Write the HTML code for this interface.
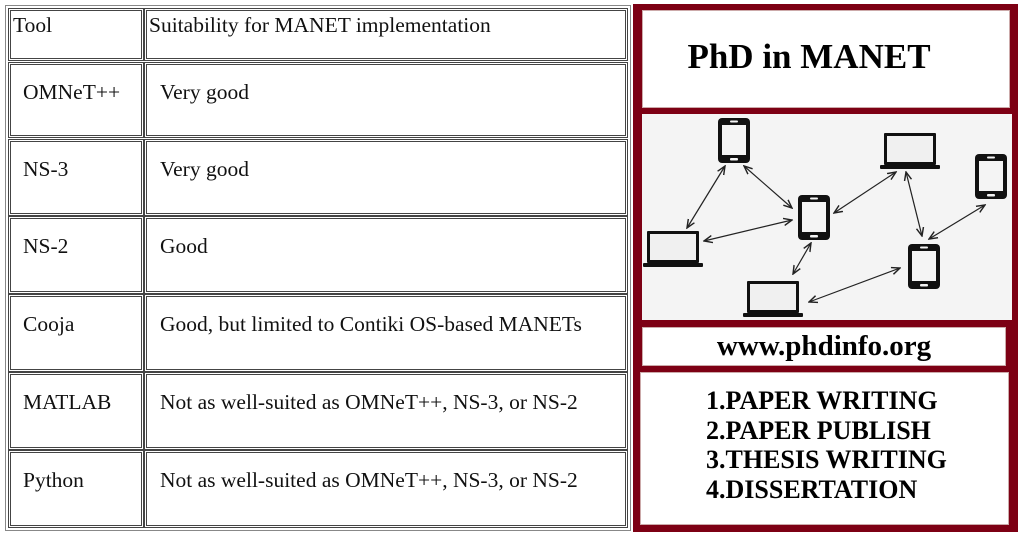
<!DOCTYPE html>
<html><head><meta charset="utf-8"><style>
body{margin:0;width:1023px;height:537px;background:#fff;position:relative;overflow:hidden;font-family:"Liberation Serif",serif;}
.a{position:absolute;box-sizing:border-box;}
.c{border:3px double #444;font-size:21.5px;color:#111;line-height:24px;}
.r{background:#7d0014;}
.w{background:#fff;border:1px solid #caa;}
.b{font-weight:bold;color:#000;text-align:center;}
</style></head><body>
<div class="a" style="left:5px;top:5px;width:626px;height:526px;border:1px solid #888;"></div>
<div class="a c" style="left:8px;top:8px;width:136px;height:53px;padding:2px 2px;">Tool</div>
<div class="a c" style="left:144px;top:8px;width:484px;height:53px;padding:2px 2px;">Suitability for MANET implementation</div>

<div class="a c" style="left:8px;top:62px;width:136px;height:76px;padding:15px 12px;">OMNeT++</div>
<div class="a c" style="left:144px;top:62px;width:484px;height:76px;padding:15px 13px;">Very good</div>
<div class="a c" style="left:8px;top:139px;width:136px;height:77px;padding:15px 12px;">NS-3</div>
<div class="a c" style="left:144px;top:139px;width:484px;height:77px;padding:15px 13px;">Very good</div>
<div class="a c" style="left:8px;top:216px;width:136px;height:78px;padding:15px 12px;">NS-2</div>
<div class="a c" style="left:144px;top:216px;width:484px;height:78px;padding:15px 13px;">Good</div>
<div class="a c" style="left:8px;top:294px;width:136px;height:78px;padding:15px 12px;">Cooja</div>
<div class="a c" style="left:144px;top:294px;width:484px;height:78px;padding:15px 13px;">Good, but limited to Contiki OS-based MANETs</div>
<div class="a c" style="left:8px;top:372px;width:136px;height:78px;padding:15px 12px;">MATLAB</div>
<div class="a c" style="left:144px;top:372px;width:484px;height:78px;padding:15px 13px;">Not as well-suited as OMNeT++, NS-3, or NS-2</div>
<div class="a c" style="left:8px;top:450px;width:136px;height:78px;padding:15px 12px;">Python</div>
<div class="a c" style="left:144px;top:450px;width:484px;height:78px;padding:15px 13px;">Not as well-suited as OMNeT++, NS-3, or NS-2</div>

<div class="a r" style="left:633px;top:4px;width:385px;height:528px;"></div>
<div class="a w b" style="left:642px;top:10px;width:368px;height:98px;font-size:35px;padding-top:26px;padding-right:34px;">PhD in MANET</div>
<div class="a" style="left:642px;top:114px;width:370px;height:206px;background:#f4f4f4;"></div>
<div class="a w b" style="left:642px;top:327px;width:364px;height:39px;font-size:29px;line-height:37px;">www.phdinfo.org</div>
<div class="a w b" style="left:640px;top:372px;width:369px;height:153px;font-size:26px;line-height:29.5px;padding-top:13px;text-align:left;padding-left:65px;">1.PAPER WRITING<br>2.PAPER PUBLISH<br>3.THESIS WRITING<br>4.DISSERTATION</div>

<svg class="a" style="left:0;top:0" width="1023" height="537">
<defs><marker id="m" markerWidth="8" markerHeight="8" refX="7" refY="4" orient="auto-start-reverse"><path d="M0,1 L7,4 L0,7" fill="none" stroke="#222" stroke-width="1.2"/></marker>
<g id="ph"><rect x="0" y="0" width="32" height="45" rx="4" fill="#111"/><rect x="4" y="7" width="24" height="30" fill="#f4f4f4"/><rect x="12" y="2.5" width="8" height="2" rx="1" fill="#f4f4f4"/><rect x="12" y="40" width="8" height="2.5" rx="1" fill="#f4f4f4"/></g>
<g id="lp"><rect x="4" y="0" width="52" height="32" rx="1" fill="#111"/><rect x="7" y="3" width="46" height="26" fill="#f0f0f0"/><rect x="0" y="32" width="60" height="4" rx="1" fill="#111"/></g>
</defs>
<use href="#ph" x="718" y="118"/><use href="#lp" x="880" y="133"/><use href="#ph" x="975" y="154"/>
<use href="#ph" x="798" y="195"/><use href="#lp" x="643" y="231"/><use href="#ph" x="908" y="244"/><use href="#lp" x="743" y="281"/>
<g stroke="#222" stroke-width="1.2" marker-start="url(#m)" marker-end="url(#m)">
<line x1="725" y1="166" x2="687" y2="228"/><line x1="744" y1="166" x2="792" y2="208"/>
<line x1="704" y1="241" x2="792" y2="220"/><line x1="811" y1="243" x2="793" y2="274"/>
<line x1="834" y1="213" x2="896" y2="172"/><line x1="906" y1="172" x2="922" y2="236"/>
<line x1="985" y1="205" x2="929" y2="239"/><line x1="809" y1="302" x2="900" y2="268"/>
</g></svg>
</body></html>
